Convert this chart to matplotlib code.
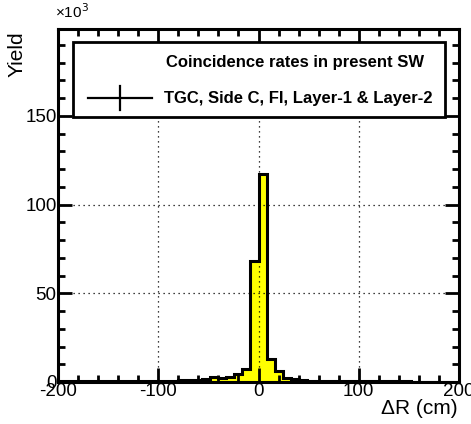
import numpy as np
import matplotlib
matplotlib.use("Agg")
import matplotlib.pyplot as plt
from matplotlib.lines import Line2D
from matplotlib.patches import Rectangle
from matplotlib.ticker import MultipleLocator

plt.rcParams['font.family'] = ['Liberation Sans', 'DejaVu Sans']
plt.rcParams['axes.unicode_minus'] = False

# Delta R histogram, 50 bins of 8 cm from -200 to 200 (yield in units of 10^3)
bin_edges = np.linspace(-200, 200, 51)
yields = [
    0.3, 0.3, 0.3, 0.3, 0.3, 0.4, 0.4, 0.4, 0.5, 0.5,
    0.5, 0.6, 0.6, 0.7, 0.8, 0.9, 1.0, 1.0, 1.5, 2.8,
    2.2, 2.6, 4.5, 7.5, 68.0, 117.0, 13.0, 6.0, 2.5, 1.5,
    1.0, 0.8, 0.7, 0.6, 0.5, 0.5, 0.4, 0.4, 0.4, 0.3,
    0.3, 0.3, 0.3, 0.3, 0.2, 0.2, 0.2, 0.2, 0.2, 0.2,
]
header = "Coincidence rates in present SW"
entry = "TGC, Side C, FI, Layer-1 & Layer-2"

fig = plt.figure(figsize=(4.71, 4.24), dpi=100)
ax = fig.add_axes([58 / 471, 1 - 382 / 424, (459 - 58) / 471, (382 - 29) / 424])

ax.stairs(yields, bin_edges, fill=True, color='#ffff00', zorder=2)
ax.stairs(yields, bin_edges, color='black', linewidth=2.2, zorder=3)

ax.set_xlim(-200, 200)
ax.set_ylim(0, 199)
ax.xaxis.set_major_locator(MultipleLocator(100))
ax.xaxis.set_minor_locator(MultipleLocator(20))
ax.yaxis.set_major_locator(MultipleLocator(50))
ax.yaxis.set_minor_locator(MultipleLocator(10))
ax.tick_params(which='both', direction='in', top=True, right=True, width=2,
               labelsize=13.5, pad=1)
ax.tick_params(which='major', length=10)
ax.tick_params(which='minor', length=5)
for s in ax.spines.values():
    s.set_linewidth(2.2)
ax.set_yticks([0, 50, 100, 150])
ax.grid(True, which='major', linestyle=(0, (1, 3)), color='black', linewidth=0.9)
ax.set_axisbelow(False)

fig.text(8 / 471, 1 - 31 / 424, "Yield", rotation=90, ha='left', va='top', fontsize=15)
fig.text(458 / 471, 1 - 409 / 424, "\u0394R (cm)", ha='right', va='center', fontsize=15)
fig.text(55 / 471, 1 - 12 / 424, "\u00d710$^{3}$", ha='left', va='center', fontsize=11)

# legend box
fig.patches.append(Rectangle((73 / 471, 1 - 117 / 424), (445 - 73) / 471, (117 - 42) / 424,
                             transform=fig.transFigure, facecolor='white',
                             edgecolor='black', linewidth=2, zorder=5))
fig.text(424 / 471, 1 - 62 / 424, header, ha='right', va='center',
         fontsize=12, fontweight='bold', zorder=6)
fig.text(433 / 471, 1 - 98 / 424, entry, ha='right', va='center',
         fontsize=12, fontweight='bold', zorder=6)
fig.lines.append(Line2D([88 / 471, 152 / 471], [1 - 98 / 424, 1 - 98 / 424],
                        transform=fig.transFigure, color='black', linewidth=1.6, zorder=6))
fig.lines.append(Line2D([120 / 471, 120 / 471], [1 - 86 / 424, 1 - 110 / 424],
                        transform=fig.transFigure, color='black', linewidth=1.6, zorder=6))

fig.savefig("out.png", dpi=100)
